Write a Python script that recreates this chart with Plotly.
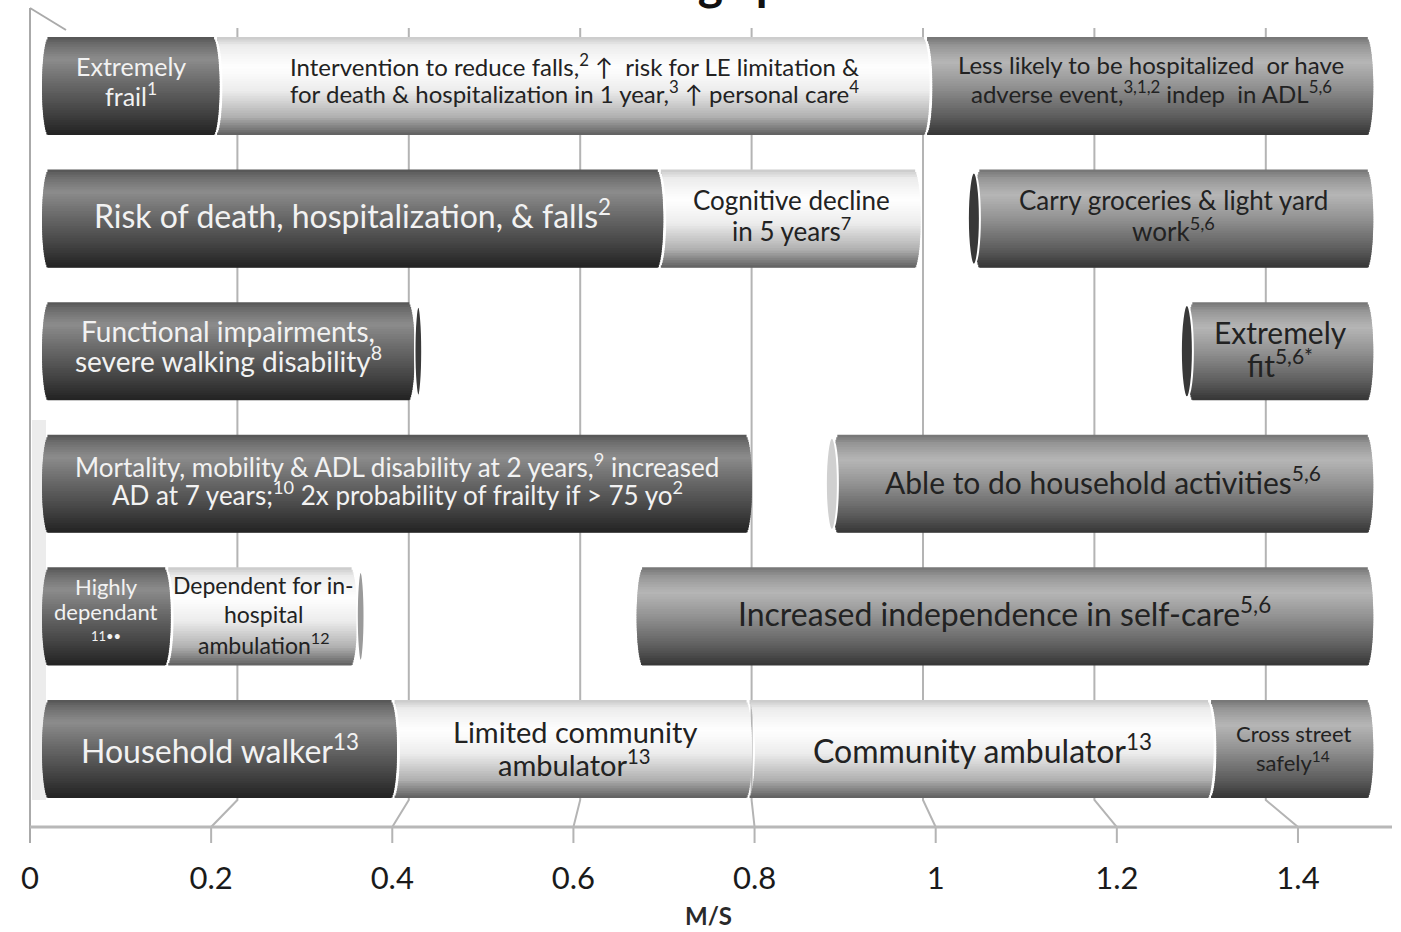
import plotly.graph_objects as go
import numpy as np

# ---------------- data ----------------
row_of = [0, 0, 0, 1, 1, 1, 2, 2, 3, 3, 4, 4, 4, 5, 5, 5, 5]
seg_start = [0.0, 0.2, 1.0, 0.0, 0.7, 1.05, 0.0, 1.29, 0.0, 0.89, 0.0, 0.145, 0.67, 0.0, 0.4, 0.8, 1.32]
seg_end = [0.2, 1.0, 1.5, 0.7, 0.99, 1.5, 0.42, 1.5, 0.8, 1.5, 0.145, 0.355, 1.5, 0.4, 0.8, 1.32, 1.5]
seg_lines = [
    ["Extremely", "frail<sup>1</sup>"],
    ["Intervention to reduce falls,<sup>2</sup> ↑  risk for LE limitation &",
     "for death & hospitalization in 1 year,<sup>3</sup> ↑ personal care<sup>4</sup>"],
    ["Less likely to be hospitalized  or have", "adverse event,<sup>3,1,2</sup> indep  in ADL<sup>5,6</sup>"],
    ["Risk of death, hospitalization, & falls<sup>2</sup>"],
    ["Cognitive decline", "in 5 years<sup>7</sup>"],
    ["Carry groceries & light yard", "work<sup>5,6</sup>"],
    ["Functional impairments,", "severe walking disability<sup>8</sup>"],
    ["Extremely", "fit<sup>5,6*</sup>"],
    ["Mortality, mobility & ADL disability at 2 years,<sup>9</sup> increased",
     "AD at 7 years;<sup>10</sup> 2x probability of frailty if > 75 yo<sup>2</sup>"],
    ["Able to do household activities<sup>5,6</sup>"],
    ["Highly", "dependant", "<span style='font-size:13px'>11••</span>"],
    ["Dependent for in-", "hospital", "ambulation<sup>12</sup>"],
    ["Increased independence in self-care<sup>5,6</sup>"],
    ["Household walker<sup>13</sup>"],
    ["Limited community", "ambulator<sup>13</sup>"],
    ["Community ambulator<sup>13</sup>"],
    ["Cross street", "safely<sup>14</sup>"],
]
tick_vals = [0, 0.2, 0.4, 0.6, 0.8, 1.0, 1.2, 1.4]
tick_text = ["0", "0.2", "0.4", "0.6", "0.8", "1", "1.2", "1.4"]

# ---------------- styles ----------------
seg_style = ["dark", "light", "mid", "dark", "light", "mid", "dark", "mid", "dark", "mid",
             "dark", "light", "mid", "dark", "light", "light", "mid"]
seg_fsize = [25, 24, 24, 32, 26, 26, 28, 30, 26, 30, 22, 23, 32, 32, 29, 32, 22]
seg_lgap = [28, 27, 27, 0, 29, 29, 28, 31, 28, 0, 25, 29, 0, 0, 31, 0, 28]
seg_yshift = [6, 8, 8, 5, 4, 4, 6, 4, 4, 4, 5, 2, 4, 0, 2, 0, 2]
cap_left = [5, 7, 9]
cap_left_fill = ["#383838", "#383838", "#d0d0d0"]
cap_right = [6, 11]

W, H = 1401, 932
PLOT_H = 827
X0_PX, X_SCALE = 42.0, 887.5          # bar depth plane
F0_PX, F_SCALE = 30.0, 905.7          # front (labels) plane
B0_PX, B_SCALE = 66.0, 857.0          # back wall plane
ROW0_PX, ROW_STEP = 86.0, 132.6
BAR_T = 0.74
FONT = "Lato"

stops = {
    "dark": [(0, (88, 88, 88)), (0.06, (108, 108, 108)), (0.22, (140, 140, 140)), (0.45, (108, 108, 108)),
             (0.75, (70, 70, 70)), (1, (36, 36, 36))],
    "mid": [(0, (120, 120, 120)), (0.08, (150, 150, 150)), (0.25, (182, 182, 182)), (0.5, (146, 146, 146)),
            (0.8, (96, 96, 96)), (1, (56, 56, 56))],
    "light": [(0, (205, 205, 205)), (0.08, (236, 236, 236)), (0.3, (255, 255, 255)), (0.55, (236, 236, 236)),
              (0.82, (176, 176, 176)), (1, (100, 100, 100))],
}


def grad(style, t):
    st = stops[style]
    for (t0, c0), (t1, c1) in zip(st[:-1], st[1:]):
        if t <= t1:
            f = (t - t0) / (t1 - t0) if t1 > t0 else 0
            c = [round(a + (b - a) * f) for a, b in zip(c0, c1)]
            return "rgb(%d,%d,%d)" % tuple(c)
    return "rgb(%d,%d,%d)" % st[-1][1]


xr = [-X0_PX / X_SCALE, (W - X0_PX) / X_SCALE]
xr2 = [-F0_PX / F_SCALE, (W - F0_PX) / F_SCALE]
yr = [(PLOT_H - ROW0_PX) / ROW_STEP, -ROW0_PX / ROW_STEP]

fig = go.Figure()

N = 40
r_end = 7.0 / X_SCALE
gap = 3.0 / X_SCALE
n_seg = len(seg_start)
for i in range(N):
    u = -1 + (i + 0.5) * 2 / N
    shrink = r_end * (1 - np.sqrt(max(0.0, 1 - u * u)))
    bases, lens, cols = [], [], []
    for k in range(n_seg):
        s, e = seg_start[k], seg_end[k]
        adjacent = any(abs(seg_end[j] - s) < 1e-6 and row_of[j] == row_of[k] for j in range(n_seg))
        b = s + gap - shrink if adjacent else s + shrink
        en = e - shrink
        bases.append(b)
        lens.append(en - b)
        cols.append(grad(seg_style[k], i / (N - 1)))
    strip = BAR_T / N
    fig.add_trace(go.Bar(
        y=row_of, x=lens, base=bases, orientation="h",
        width=strip * (1.8 if i < N - 1 else 1.0), offset=-BAR_T / 2 + i * strip,
        marker=dict(color=cols, line=dict(width=0)),
        hoverinfo="skip", showlegend=False,
    ))

# invisible trace for the front label axis
fig.add_trace(go.Scatter(x=[0, 1.4], y=[0, 0], xaxis="x2", yaxis="y", mode="markers",
                         marker=dict(opacity=0), hoverinfo="skip", showlegend=False))

# text labels
ann = []
for k in range(n_seg):
    lines = seg_lines[k]
    n = len(lines)
    col = "#f2f2f2" if seg_style[k] == "dark" else "#222222"
    for i, t in enumerate(lines):
        ann.append(dict(
            x=(seg_start[k] + seg_end[k]) / 2, y=row_of[k], xref="x", yref="y",
            text=t, showarrow=False, xanchor="center", yanchor="middle",
            yshift=seg_yshift[k] + ((n - 1) / 2 - i) * seg_lgap[k],
            font=dict(family=FONT, size=seg_fsize[k], color=col),
        ))

ann.append(dict(x=708 / W, y=(PLOT_H - 915) / PLOT_H, xref="paper", yref="paper", text="M/S",
                showarrow=False, xanchor="center", yanchor="middle",
                font=dict(family=FONT, size=24, color="#2a2a2a", weight="bold")))
ann.append(dict(x=705 / W, y=(PLOT_H - 12) / PLOT_H, xref="paper", yref="paper", text="<b>Walking speed</b>",
                showarrow=False, xanchor="center", yanchor="bottom",
                font=dict(family=FONT, size=48, color="#111111")))


# 3-D frame: grid lines (back wall -> floor -> front ticks)
def pxp(xp):
    return xp / W


def pyp(yp):
    return (PLOT_H - yp) / PLOT_H


shapes = []
gcol = "#b4b4b4"
for v in tick_vals[1:]:
    bx = B0_PX + B_SCALE * v
    fx = F0_PX + F_SCALE * v
    path = "M %f %f L %f %f L %f %f L %f %f" % (
        pxp(bx), pyp(28), pxp(bx), pyp(800), pxp(fx), pyp(827), pxp(fx), pyp(843))
    shapes.append(dict(type="path", path=path, xref="paper", yref="paper",
                       line=dict(color=gcol, width=2), layer="below"))
# left wall
shapes.append(dict(type="rect", xref="paper", yref="paper", layer="below",
                   x0=pxp(F0_PX + 2), x1=pxp(X0_PX + 4), y0=pyp(800), y1=pyp(420),
                   fillcolor="#ececec", line=dict(width=0)))
shapes.append(dict(type="path", xref="paper", yref="paper", layer="below",
                   path="M %f %f L %f %f" % (pxp(F0_PX), pyp(8), pxp(F0_PX), pyp(843)),
                   line=dict(color="#aaaaaa", width=2)))
shapes.append(dict(type="path", xref="paper", yref="paper", layer="below",
                   path="M %f %f L %f %f" % (pxp(F0_PX), pyp(8), pxp(B0_PX), pyp(30)),
                   line=dict(color="#aaaaaa", width=2)))
# floor front edge
shapes.append(dict(type="path", xref="paper", yref="paper", layer="below",
                   path="M %f %f L %f %f" % (pxp(F0_PX), pyp(827), pxp(1392), pyp(827)),
                   line=dict(color="#b8b8b8", width=3)))

# cylinder openings
cw = 6.0 / X_SCALE
for k, fc in zip(cap_left, cap_left_fill):
    s = seg_start[k]
    shapes.append(dict(type="circle", xref="x", yref="y", x0=s - cw, x1=s + cw,
                       y0=row_of[k] - BAR_T * 0.47, y1=row_of[k] + BAR_T * 0.47,
                       fillcolor=fc, line=dict(color="white", width=2), layer="above"))
for k in cap_right:
    e = seg_end[k]
    shapes.append(dict(type="circle", xref="x", yref="y", x0=e, x1=e + 1.2 * cw,
                       y0=row_of[k] - BAR_T * 0.45, y1=row_of[k] + BAR_T * 0.45,
                       fillcolor="#3a3a3a" if seg_style[k] == "dark" else "#9a9a9a",
                       line=dict(color="white", width=1.5), layer="above"))

fig.update_layout(
    width=W, height=H,
    margin=dict(l=0, r=0, t=0, b=H - PLOT_H),
    paper_bgcolor="white", plot_bgcolor="white",
    barmode="overlay",
    showlegend=False,
    xaxis=dict(range=xr, showgrid=False, zeroline=False, showticklabels=False, showline=False, fixedrange=True),
    xaxis2=dict(range=xr2, overlaying="x", anchor="y", side="bottom", tickvals=tick_vals, ticktext=tick_text,
                ticks="outside", ticklen=24, tickcolor="rgba(0,0,0,0)", showgrid=False, zeroline=False,
                showline=False, tickfont=dict(family=FONT, size=31, color="#1a1a1a")),
    yaxis=dict(range=yr, showgrid=False, zeroline=False, showticklabels=False, showline=False, fixedrange=True),
    annotations=ann,
    shapes=shapes,
)

fig.write_html("out.html")
